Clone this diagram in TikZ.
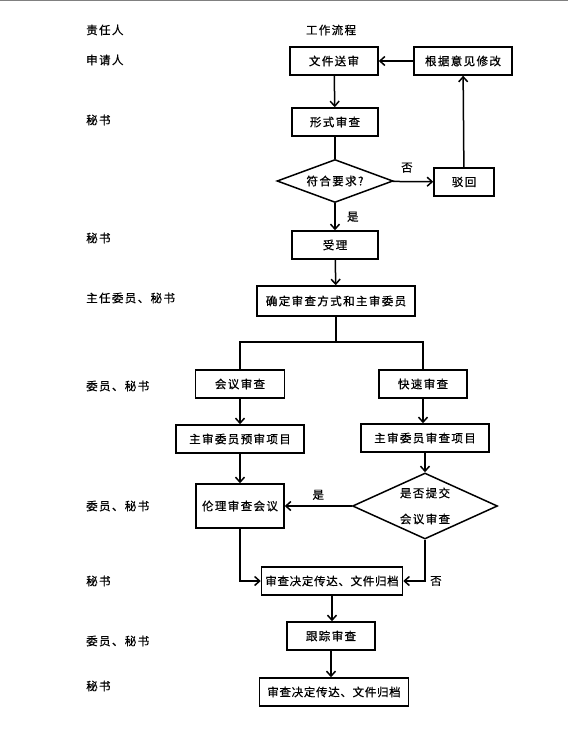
\documentclass[tikz,border=0pt]{standalone}
\usepackage{fontspec}
\setmainfont{Noto Sans CJK SC}[LetterSpace=12, FakeBold=0.6]
\usetikzlibrary{arrows.meta,shapes.geometric}

\begin{document}
\begin{tikzpicture}[x=1pt, y=-1pt,
    box/.style={draw, rectangle, line width=1.5pt, inner sep=0pt, minimum height=28pt},
    choice/.style={draw, diamond, line width=1.5pt, inner sep=0pt},
    role/.style={anchor=west, inner sep=0pt},
    arr/.style={-{Straight Barb[length=5pt,width=9pt]}, line width=1.5pt},
    link/.style={line width=1.5pt},
    tight/.style={font=\fontsize{11.5}{14}\selectfont\addfontfeature{LetterSpace=6}},
    every node/.style={font=\fontsize{11.5}{14}\selectfont}]
  \useasboundingbox (0,0) rectangle (568,743);
  \draw[gray, line width=1pt] (0,1) -- (568,1);

  % Titles
  \node[role] (t1) at (86,30) {责任人};
  \node (t2) at (331,30) {工作流程};

  % Roles
  \node[role] (r1) at (86,60) {申请人};
  \node[role] (r2) at (86,120) {秘书};
  \node[role] (r3) at (86,238) {秘书};
  \node[role] (r4) at (86,298) {主任委员、秘书};
  \node[role] (r5) at (86,386) {委员、秘书};
  \node[role] (r6) at (86,506) {委员、秘书};
  \node[role] (r7) at (86,581) {秘书};
  \node[role] (r8) at (86,641) {委员、秘书};
  \node[role] (r9) at (86,686) {秘书};

  % Nodes
  \node[box, minimum width=88pt] (send) at (334,61) {文件送审};
  \node[box, minimum width=98pt] (revise) at (463,61) {根据意见修改};
  \node[box, minimum width=86pt] (form) at (335,122) {形式审查};
  \node[choice, minimum width=116pt, minimum height=43pt, aspect=2.7] (check) at (335,181) {符合要求?};
  \node[box, minimum width=60pt] (reject) at (464,182) {驳回};
  \node[box, minimum width=86pt] (accept) at (335,245) {受理};
  \node[box, minimum width=158pt, minimum height=30pt] (decide) at (336,301) {确定审查方式和主审委员};
  \node[box, minimum width=89pt] (meet) at (240,384) {会议审查};
  \node[box, minimum width=88pt] (fast) at (423,384) {快速审查};
  \node[box, minimum width=128pt] (pre) at (240,439) {主审委员预审项目};
  \node[box, minimum width=128pt] (main) at (425,438) {主审委员审查项目};
  \node[box, minimum width=88pt, minimum height=44pt] (ethic) at (240,506) {伦理审查会议};
  \node[choice, minimum width=145pt, minimum height=66pt, aspect=2.2, align=center] (submit) at (425,506) {是否提交\\[12pt]会议审查};
  \node[box, tight, minimum width=141pt] (notify) at (332,581) {审查决定传达、文件归档};
  \node[box, minimum width=88pt] (track) at (331,636) {跟踪审查};
  \node[box, tight, minimum width=149pt] (final) at (334,692) {审查决定传达、文件归档};
  \coordinate (split) at (336,342);

  % Arrows
  \draw[arr] (send) -- (form);
  \draw[link] (form) -- (check);
  \draw[arr] (check) -- node[above=5pt, xshift=-6pt] (no1) {否} (reject);
  \draw[arr] (reject) -- (revise);
  \draw[arr] (revise) -- (send);
  \draw[arr] (check) -- node[right=8pt] (yes1) {是} (accept);
  \draw[arr] (accept) -- (decide);
  \draw[link] (decide) -- (split);
  \draw[link] (meet.north) |- (split) -| (fast.north);
  \draw[arr] (meet) -- (pre);
  \draw[arr] (fast) -- (main.north -| fast);
  \draw[arr] (pre) -- (ethic);
  \draw[arr] (main.south) -- (submit.north);
  \draw[arr] (submit) -- node[above=2pt] (yes2) {是} (ethic);
  \draw[arr] (ethic.south) |- (notify.west);
  \draw[arr] (submit.south) |- node[pos=0.75, right=12pt] (no2) {否} (notify.east);
  \draw[arr] (notify) -- (notify |- track.north);
  \draw[arr] (track) -- (track |- final.north);
\end{tikzpicture}
\end{document}
